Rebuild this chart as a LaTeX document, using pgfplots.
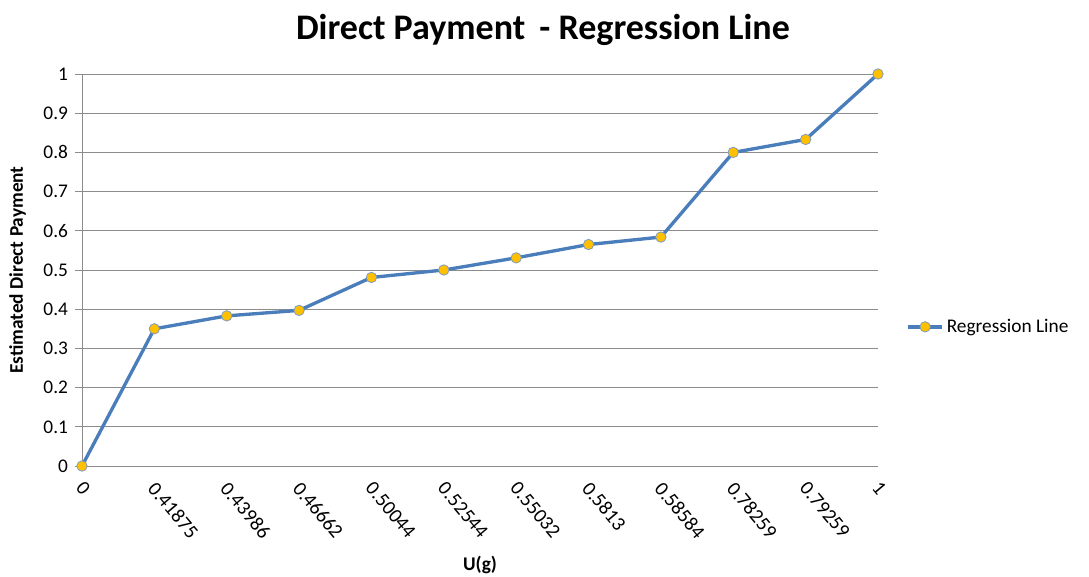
\documentclass[border=0pt]{standalone}
\usepackage{pgfplots}
\pgfplotsset{compat=1.18}
\usepackage{fontspec}
\setmainfont{Carlito}
\definecolor{lineblue}{HTML}{4A7EBB}
\definecolor{mkgold}{HTML}{FFC000}
\definecolor{mkedge}{HTML}{7F9CC0}
\definecolor{gridgray}{HTML}{8C8C8C}
\begin{document}
\begin{tikzpicture}[x=1pt,y=1pt]
\path[use as bounding box] (-61.5,-82.5) rectangle (755.25,349.5);
\begin{axis}[
  at={(0,0)}, anchor=south west,
  scale only axis, width=597pt, height=294pt,
  xmin=0, xmax=11, ymin=0, ymax=1,
  xtick={0,1,2,3,4,5,6,7,8,9,10,11},
  xticklabels={0,0.41875,0.43986,0.46662,0.50044,0.52544,0.55032,0.5813,0.58584,0.78259,0.79259,1},
  ytick={0,0.1,0.2,0.3,0.4,0.5,0.6,0.7,0.8,0.9,1},
  yticklabels={0,0.1,0.2,0.3,0.4,0.5,0.6,0.7,0.8,0.9,1},
  axis lines=left, axis line style={-, draw=gridgray, line width=0.6pt},
  ymajorgrids, grid style={gridgray, line width=0.6pt},
  x tick style={draw=none}, y tick style={gridgray, line width=0.6pt},
  tick align=outside, major tick length=5pt,
  x tick label style={rotate=-50, anchor=north west, font=\fontsize{15}{18}\selectfont, xshift=2.5pt, yshift=1.5pt},
  y tick label style={font=\fontsize{14.5}{17}\selectfont, xshift=-2pt},
  /pgf/number format/assume math mode=true,
  xlabel={\textbf{U(g)}}, ylabel={\textbf{Estimated Direct Payment}},
  xlabel style={at={(axis description cs:0.5,0)}, anchor=center, yshift=-74pt, font=\fontsize{14.5}{17}\selectfont},
  ylabel style={at={(axis description cs:-0.081,0.5)}, anchor=center, font=\fontsize{14.5}{17}\selectfont},
  legend style={at={(axis description cs:1.035,0.355)}, anchor=west, draw=none, fill=none, font=\fontsize{14.5}{17}\selectfont, inner xsep=0pt},
  legend image code/.code={\draw[mark repeat=2,mark phase=2,#1] plot coordinates {(0pt,0pt) (13pt,0pt) (26pt,0pt)};},
  clip=false,
]
\addplot[color=lineblue, line width=2.5pt, mark=*, mark size=3.9pt,
  mark options={fill=mkgold, draw=mkedge, line width=0.6pt}]
  coordinates {(0,0) (1,0.35) (2,0.383) (3,0.397) (4,0.481) (5,0.5) (6,0.531) (7,0.565) (8,0.584) (9,0.8) (10,0.833) (11,1)};
\addlegendentry{Regression Line}
\end{axis}
\node[font=\fontsize{27}{32}\selectfont\bfseries] at (345.75,327) {Direct Payment\, - Regression Line};
\end{tikzpicture}
\end{document}
